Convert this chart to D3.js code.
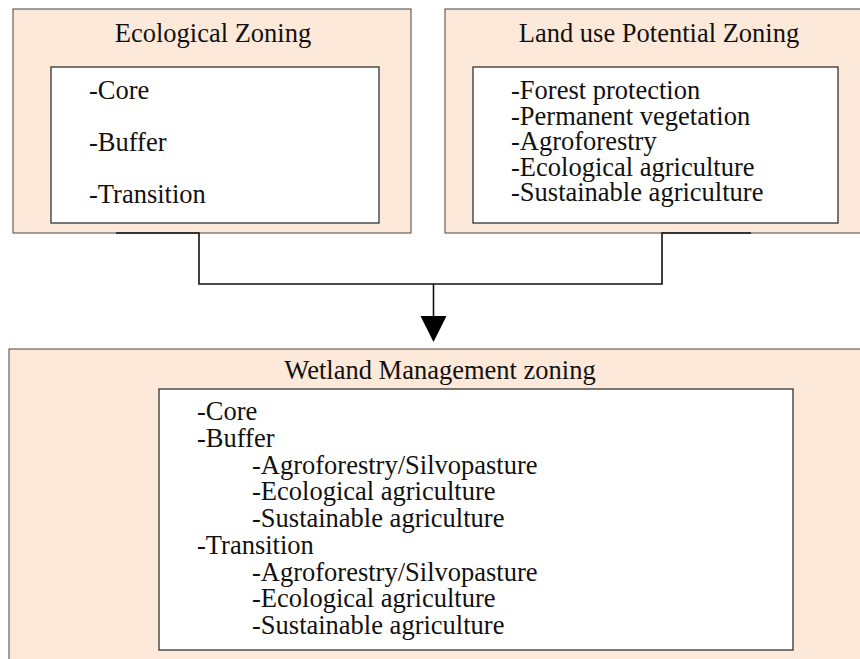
<!DOCTYPE html>
<html>
<head>
<meta charset="utf-8">
<script src="https://d3js.org/d3.v7.min.js"></script>
<style>
  body { margin: 0; background: #fff; }
  text { font-family: "Liberation Serif", "Times New Roman", serif; fill: #111; }
</style>
</head>
<body>
<div id="diagram"></div>
<script>
// box titles
var boxTitles = ["Ecological Zoning", "Land use Potential Zoning", "Wetland Management zoning"];
// list contents of each box
var ecoItems = ["-Core", "-Buffer", "-Transition"];
var landItems = ["-Forest protection", "-Permanent vegetation", "-Agroforestry",
  "-Ecological agriculture", "-Sustainable agriculture"];
var wetlandItems = ["-Core", "-Buffer", "-Agroforestry/Silvopasture", "-Ecological agriculture",
  "-Sustainable agriculture", "-Transition", "-Agroforestry/Silvopasture",
  "-Ecological agriculture", "-Sustainable agriculture"];
// 0 = zone, 1 = sub item
var wetlandLevels = [0, 0, 1, 1, 1, 0, 1, 1, 1];

// svg dimensions
var svgWidth = 860;
var svgHeight = 659;
var fontSize = 26.5;
var peach = "#fde9d9";

var svg = d3.select("#diagram")
  .append("svg")
  .attr("width", svgWidth)
  .attr("height", svgHeight);

// outer box, inner box, title and list for one zoning block
function drawBlock(b) {
  var g = svg.append("g");
  g.append("rect")
    .attr("x", b.outer[0]).attr("y", b.outer[1])
    .attr("width", b.outer[2] - b.outer[0])
    .attr("height", b.outer[3] - b.outer[1])
    .attr("fill", peach)
    .attr("stroke", "#444")
    .attr("stroke-width", 1);
  g.append("rect")
    .attr("x", b.inner[0]).attr("y", b.inner[1])
    .attr("width", b.inner[2] - b.inner[0])
    .attr("height", b.inner[3] - b.inner[1])
    .attr("fill", "#fff")
    .attr("stroke", "#333")
    .attr("stroke-width", 1.3);
  g.append("text")
    .attr("x", b.titleX)
    .attr("y", b.titleY)
    .attr("text-anchor", "middle")
    .style("font-size", fontSize + "px")
    .text(b.title);
  // baseline of every list row
  var yLine = d3.scaleLinear()
    .domain([0, b.items.length - 1])
    .range(b.rows);
  g.selectAll("text.item")
    .data(b.items)
    .enter()
    .append("text")
    .attr("class", "item")
    .attr("x", (d, i) => b.textX + (b.levels ? b.levels[i] * b.indent : 0))
    .attr("y", (d, i) => yLine(i))
    .style("font-size", fontSize + "px")
    .text(d => d);
}

drawBlock({title: boxTitles[0], items: ecoItems,
  outer: [13, 9, 411, 233], inner: [51, 67, 379, 223],
  titleX: 213, titleY: 42, textX: 89, rows: [99, 203]});
drawBlock({title: boxTitles[1], items: landItems,
  outer: [445, 9, 880, 233], inner: [473, 67, 838, 223],
  titleX: 659, titleY: 42, textX: 511, rows: [99, 201]});
drawBlock({title: boxTitles[2], items: wetlandItems, levels: wetlandLevels, indent: 55,
  outer: [9, 349, 880, 680], inner: [159, 389, 793, 650],
  titleX: 440, titleY: 379, textX: 197, rows: [420, 634]});

// connector from the two top boxes
var connector = d3.line();
svg.append("path")
  .attr("d", connector([[116, 233], [199, 233], [199, 284], [662, 284], [662, 233], [751, 233]]))
  .attr("fill", "none")
  .attr("stroke", "#111")
  .attr("stroke-width", 1.6);
// arrow down to the wetland box
svg.append("path")
  .attr("d", connector([[433.5, 284], [433.5, 318]]))
  .attr("stroke", "#111")
  .attr("stroke-width", 1.6);
svg.append("path")
  .attr("d", connector([[420.5, 316], [446.5, 316], [433.5, 342]]) + "Z")
  .attr("fill", "#000");
</script>
</body>
</html>
